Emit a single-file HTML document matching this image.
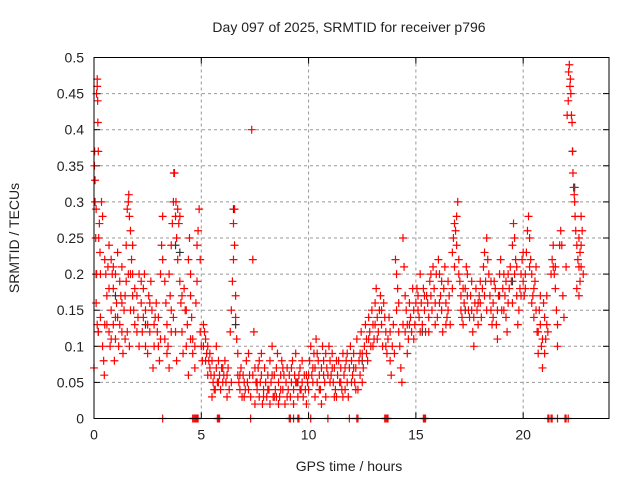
<!DOCTYPE html>
<html><head><meta charset="utf-8"><style>
body{margin:0;background:#fff}
svg text{font-family:"Liberation Sans",sans-serif;font-size:14px;fill:#222}
</style></head><body>
<svg id="chart" width="640" height="480" xmlns="http://www.w3.org/2000/svg">
<text x="349" y="32" text-anchor="middle">Day 097 of 2025, SRMTID for receiver p796</text>
<text transform="translate(19,238) rotate(-90)" text-anchor="middle">SRMTID / TECUs</text>
<text x="349" y="471" text-anchor="middle">GPS time / hours</text>
<g id="grid"></g><g id="axes"></g><g id="black"></g><g id="red"></g>
<rect x="94" y="57.5" width="515" height="361" fill="none" stroke="#000" stroke-width="1"/>
</svg>
<script>
const xTicks=[0,5,10,15,20];
const yTicks=[0,0.05,0.1,0.15,0.2,0.25,0.3,0.35,0.4,0.45,0.5];
const yTickLabels=["0","0.05","0.1","0.15","0.2","0.25","0.3","0.35","0.4","0.45","0.5"];
const redPoints=[[0,0.07],[0.02,0.35],[0.03,0.37],[0.05,0.33],[0.05,0.3],[0.08,0.25],[0.1,0.29],[0.12,0.45],[0.15,0.47],[0.15,0.46],[0.17,0.44],[0.18,0.41],[0.2,0.37],[0.12,0.2],[0.1,0.16],[0.15,0.13],[0.2,0.12],[0.22,0.25],[0.25,0.27],[0.28,0.23],[0.3,0.2],[0.3,0.14],[0.35,0.3],[0.4,0.28],[0.4,0.1],[0.45,0.08],[0.48,0.06],[0.5,0.13],[0.5,0.22],
[0.55,0.2],[0.6,0.17],[0.65,0.21],[0.7,0.24],[0.7,0.12],[0.75,0.1],[0.8,0.15],[0.8,0.22],[0.85,0.2],[0.9,0.18],[0.9,0.13],[0.95,0.08],[1.0,0.11],[1.0,0.2],[1.05,0.16],[1.1,0.23],[1.1,0.14],[1.15,0.1],[1.2,0.19],[1.25,0.17],[1.3,0.12],[1.3,0.21],[1.35,0.09],[1.4,0.15],[1.45,0.17],[1.5,0.19],
[1.5,0.24],[1.55,0.29],[1.6,0.3],[1.62,0.31],[1.65,0.28],[1.7,0.26],[1.7,0.2],[1.75,0.22],[1.8,0.24],[1.8,0.17],[1.85,0.15],[1.9,0.13],[1.6,0.2],[1.55,0.12],[1.65,0.1],
[2.0,0.17],[2.05,0.14],[2.1,0.1],[2.1,0.2],[2.2,0.16],[2.25,0.12],[2.3,0.18],[2.35,0.2],[2.4,0.15],[2.5,0.13],[2.5,0.09],[2.55,0.17],[2.6,0.12],[2.65,0.19],[2.7,0.15],[2.75,0.07],[2.8,0.1],[2.85,0.14],[2.9,0.16],[2.95,0.12],[3.0,0.1],[3.05,0.08],[3.1,0.11],[3.1,0.2],[3.15,0.24],[3.2,0.28],[3.2,0.22],
[3.3,0.19],[3.35,0.16],[3.4,0.13],[3.45,0.1],[3.5,0.07],[3.5,0.2],[3.55,0.17],[3.6,0.15],[3.6,0.24],[3.65,0.27],[3.7,0.3],[3.72,0.34],[3.75,0.34],[3.8,0.28],[3.82,0.3],[3.85,0.25],[3.9,0.29],[3.9,0.22],[3.95,0.27],[4.0,0.28],[4.0,0.19],[4.05,0.16],[4.1,0.12],[4.15,0.09],[3.8,0.12],[3.85,0.08],
[4.2,0.18],[4.25,0.15],[4.3,0.1],[4.35,0.13],[4.4,0.06],[4.4,0.22],[4.45,0.25],[4.5,0.2],[4.5,0.17],[4.55,0.14],[4.6,0.11],[4.6,0.09],[4.7,0.07],[4.7,0.1],[4.75,0.16],[4.8,0.19],[4.8,0.24],[4.85,0.26],[4.9,0.29],[4.95,0.22],[4.95,0.12],[5.0,0.1],[5.05,0.08],
[5.1,0.13],[5.15,0.12],[5.2,0.11],[5.25,0.09],[5.3,0.1],[5.35,0.08],[5.4,0.07],[5.45,0.06],[5.5,0.08],[5.55,0.05],[5.6,0.06],[5.65,0.04],[5.7,0.07],[5.75,0.05],[5.8,0.08],[5.85,0.06],[5.9,0.04],[5.95,0.07],[6.0,0.05],[5.5,0.03],[5.7,0.1],
[6.05,0.06],[6.1,0.08],[6.15,0.05],[6.2,0.03],[6.25,0.07],[6.3,0.04],[6.35,0.12],[6.4,0.15],[6.45,0.19],[6.5,0.22],[6.5,0.27],[6.55,0.29],[6.55,0.24],[6.6,0.17],[6.6,0.14],[6.65,0.11],[6.7,0.09],[6.7,0.06],[6.75,0.05],[6.8,0.04],[6.85,0.07],[6.9,0.03],[6.95,0.06],[7.0,0.05],
[7.05,0.04],[7.1,0.08],[7.15,0.05],[7.2,0.09],[7.25,0.06],[7.3,0.03],[7.35,0.4],[7.4,0.22],[7.45,0.12],[7.5,0.07],[7.55,0.05],[7.6,0.04],[7.65,0.07],[7.7,0.03],[7.75,0.05],[7.8,0.06],[7.85,0.02],[7.9,0.04],[7.95,0.07],[8.0,0.05],[7.5,0.02],[7.8,0.09],
[8.05,0.03],[8.1,0.06],[8.15,0.04],[8.2,0.08],[8.25,0.05],[8.3,0.1],[8.35,0.03],[8.4,0.06],[8.45,0.04],[8.5,0.07],[8.55,0.09],[8.6,0.05],[8.65,0.03],[8.7,0.06],[8.75,0.08],[8.8,0.04],[8.85,0.06],[8.9,0.02],[8.95,0.05],[9.0,0.07],[8.6,0.02],[8.4,0.03],
[9.05,0.04],[9.1,0.06],[9.15,0.03],[9.2,0.05],[9.25,0.08],[9.3,0.04],[9.35,0.06],[9.4,0.09],[9.45,0.05],[9.5,0.03],[9.55,0.06],[9.6,0.07],[9.65,0.04],[9.7,0.05],[9.75,0.03],[9.8,0.06],[9.85,0.04],[9.9,0.02],[9.95,0.05],[10.0,0.06],
[10.05,0.08],[10.1,0.1],[10.15,0.06],[10.2,0.05],[10.25,0.09],[10.3,0.07],[10.35,0.11],[10.4,0.05],[10.45,0.08],[10.5,0.06],[10.55,0.04],[10.6,0.07],[10.65,0.1],[10.7,0.08],[10.75,0.05],[10.8,0.03],[10.85,0.07],[10.9,0.06],[10.95,0.1],[11.0,0.08],[10.6,0.02],[10.3,0.03],
[11.05,0.06],[11.1,0.09],[11.15,0.05],[11.2,0.07],[11.25,0.04],[11.3,0.03],[11.35,0.06],[11.4,0.08],[11.45,0.05],[11.5,0.07],[11.55,0.04],[11.6,0.09],[11.65,0.06],[11.7,0.04],[11.75,0.08],[11.8,0.05],[11.85,0.03],[11.9,0.07],[11.95,0.1],[12.0,0.08],
[12.05,0.06],[12.1,0.09],[12.15,0.05],[12.2,0.07],[12.25,0.11],[12.3,0.04],[12.35,0.08],[12.4,0.06],[12.45,0.12],[12.5,0.09],[12.55,0.07],[12.6,0.1],[12.65,0.13],[12.7,0.11],[12.75,0.08],[12.8,0.14],[12.85,0.12],[12.9,0.1],[12.95,0.15],[13.0,0.13],
[13.05,0.11],[13.1,0.16],[13.15,0.18],[13.2,0.14],[13.25,0.12],[13.3,0.15],[13.35,0.17],[13.4,0.13],[13.45,0.1],[13.5,0.16],[13.55,0.14],[13.6,0.12],[13.65,0.09],[13.7,0.11],[13.75,0.14],[13.8,0.08],[13.85,0.06],[13.9,0.1],[13.95,0.13],[14.0,0.09],
[14.05,0.22],[14.1,0.2],[14.15,0.18],[14.2,0.12],[14.25,0.1],[14.3,0.07],[14.35,0.05],[14.4,0.25],[14.45,0.21],[14.5,0.17],[14.55,0.15],[14.6,0.13],[14.65,0.11],[14.7,0.16],[14.75,0.14],[14.8,0.12],[14.85,0.18],[14.9,0.15],[14.95,0.13],[15.0,0.16],[14.6,0.09],
[15.05,0.18],[15.1,0.17],[15.15,0.14],[15.2,0.2],[15.25,0.16],[15.3,0.13],[15.35,0.18],[15.4,0.15],[15.45,0.12],[15.5,0.17],[15.55,0.16],[15.6,0.14],[15.65,0.19],[15.7,0.17],[15.75,0.15],[15.8,0.21],[15.85,0.18],[15.9,0.16],[15.95,0.2],[16.0,0.14],
[16.05,0.22],[16.1,0.2],[16.15,0.17],[16.2,0.15],[16.25,0.12],[16.3,0.18],[16.35,0.21],[16.4,0.16],[16.45,0.14],[16.5,0.19],[16.55,0.17],[16.6,0.13],[16.7,0.23],[16.75,0.25],[16.8,0.27],[16.85,0.26],[16.9,0.28],[16.95,0.3],[17.0,0.22],[17.0,0.2],
[17.05,0.19],[17.1,0.17],[17.15,0.14],[17.2,0.13],[17.25,0.16],[17.3,0.18],[17.35,0.21],[17.4,0.2],[17.45,0.15],[17.5,0.14],[17.55,0.17],[17.6,0.19],[17.65,0.12],[17.7,0.1],[17.75,0.16],[17.8,0.18],[17.85,0.15],[17.9,0.13],[17.95,0.17],[18.0,0.16],
[18.05,0.14],[18.1,0.18],[18.15,0.21],[18.2,0.23],[18.25,0.19],[18.3,0.25],[18.35,0.22],[18.4,0.2],[18.45,0.17],[18.5,0.15],[18.55,0.13],[18.6,0.16],[18.65,0.19],[18.7,0.18],[18.75,0.13],[18.8,0.11],[18.85,0.17],[18.9,0.2],[18.95,0.22],[19.0,0.15],
[19.05,0.18],[19.1,0.2],[19.15,0.17],[19.2,0.14],[19.25,0.12],[19.3,0.16],[19.35,0.18],[19.4,0.21],[19.45,0.19],[19.5,0.24],[19.55,0.27],[19.6,0.25],[19.65,0.22],[19.7,0.17],[19.75,0.13],[19.8,0.15],[19.85,0.18],[19.9,0.2],[19.95,0.22],[20.0,0.19],
[20.05,0.17],[20.1,0.2],[20.15,0.23],[20.2,0.26],[20.25,0.28],[20.3,0.25],[20.35,0.22],[20.4,0.2],[20.45,0.17],[20.5,0.14],[20.55,0.19],[20.6,0.21],[20.65,0.12],[20.7,0.09],[20.75,0.15],[20.8,0.13],[20.85,0.1],[20.9,0.07],[20.95,0.16],[21.0,0.14],[21.05,0.11],[21.1,0.17],[21.15,0.12],
[21.3,0.2],[21.35,0.22],[21.4,0.24],[21.45,0.2],[21.5,0.18],[21.55,0.15],[21.6,0.1],[21.7,0.24],[21.75,0.26],[21.8,0.24],[21.85,0.17],[21.9,0.14],[22.0,0.21],
[22.05,0.42],[22.1,0.44],[22.12,0.48],[22.15,0.49],[22.18,0.46],[22.2,0.47],[22.22,0.45],[22.25,0.42],[22.28,0.41],[22.3,0.37],[22.32,0.34],[22.35,0.32],[22.38,0.31],[22.4,0.3],[22.42,0.28],[22.45,0.26],[22.5,0.24],[22.55,0.22],[22.6,0.25],[22.65,0.23],[22.7,0.21],[22.75,0.26],[22.8,0.2],[22.5,0.18],[22.6,0.17],[22.7,0.28]];
const redPointsExtra=[[0.6,0.13],[0.7,0.18],[0.8,0.11],[0.9,0.21],[1.0,0.14],[1.2,0.13],[1.3,0.16],[1.45,0.11],[1.7,0.15],[1.8,0.2],[1.9,0.18],[2.0,0.12],[2.2,0.19],[2.3,0.14],[2.4,0.1],[2.6,0.16],[2.8,0.13],[3.0,0.14],[3.3,0.11],[3.4,0.09],[3.6,0.12],[3.7,0.14],[4.1,0.17],[4.3,0.15],[4.5,0.11],[5.1,0.1],[5.2,0.08],[5.3,0.06],[5.4,0.09],[5.6,0.04],[5.8,0.05],[6.0,0.07],[6.2,0.06],[6.4,0.05],[6.8,0.06],[7.0,0.03],[7.2,0.04],[7.4,0.06],[7.6,0.05],[7.7,0.08],[7.9,0.03],[8.1,0.04],[8.2,0.02],[8.3,0.06],[8.5,0.03],[8.7,0.04],[8.8,0.07],[9.0,0.03],[9.2,0.07],[9.3,0.02],[9.4,0.05],[9.6,0.04],[9.7,0.08],[9.9,0.06],[10.0,0.04],[10.2,0.07],[10.4,0.09],[10.5,0.04],[10.7,0.06],[10.8,0.09],[11.0,0.05],[11.1,0.07],[11.2,0.03],[11.3,0.08],[11.5,0.05],[11.6,0.03],[11.7,0.07],[11.8,0.09],[12.0,0.05],[12.1,0.07],[12.2,0.04],[12.4,0.09],[12.5,0.05],[12.7,0.09],[12.8,0.11],[13.0,0.1],[13.1,0.13],[13.2,0.11],[13.4,0.15],[13.6,0.1],[13.8,0.12],[14.1,0.15],[14.2,0.16],[14.4,0.13],[14.5,0.12],[14.7,0.13],[14.9,0.11],[15.1,0.15],[15.2,0.12],[15.4,0.17],[15.6,0.12],[15.7,0.2],[15.9,0.13],[16.1,0.16],[16.2,0.19],[16.4,0.13],[16.5,0.15],[16.7,0.18],[16.8,0.21],[16.9,0.24],[17.1,0.15],[17.2,0.18],[17.4,0.17],[17.6,0.15],[17.7,0.14],[17.9,0.16],[18.0,0.19],[18.2,0.17],[18.3,0.15],[18.5,0.19],[18.6,0.14],[18.8,0.15],[18.9,0.17],[19.1,0.15],[19.2,0.19],[19.3,0.2],[19.5,0.16],[19.6,0.2],[19.7,0.21],[19.9,0.17],[20.0,0.23],[20.1,0.18],[20.3,0.21],[20.4,0.16],[20.5,0.18],[20.6,0.15],[20.7,0.12],[20.8,0.17],[20.9,0.11],[21.0,0.09],[21.1,0.13],[21.4,0.21],[21.5,0.21],[21.6,0.13],[22.6,0.21],[22.65,0.19],[22.7,0.24]];
const zeroTimes=[3.2,4.6,4.65,4.7,4.75,4.8,4.85,5.75,5.8,5.85,7.3,9.1,9.15,9.3,9.5,9.55,10.1,10.9,11.9,12.25,12.3,13.55,13.6,13.65,13.7,15.35,15.4,15.45,21.15,21.2,21.3,21.35,21.6,21.95,22.0,22.1];
const blackPoints=[[0.1,0.2],[0.2,0.12],[1.0,0.17],[3.8,0.24],[6.5,0.29],[6.6,0.13],[9.5,0.05],[22.3,0.37],[22.4,0.32],[15.3,0.12],[19.5,0.19],[12.5,0.08],[2.4,0.13],[4.0,0.23],[17.3,0.15]];

const L=94,R=609,T=57.5,B=418.5,XMAX=24,YMAX=0.5;
const xs=v=>L+v/XMAX*(R-L);
const ys=v=>B-v/YMAX*(B-T);
const NS="http://www.w3.org/2000/svg";
function mk(tag,attrs,parent){const e=document.createElementNS(NS,tag);for(const k in attrs)e.setAttribute(k,attrs[k]);parent.appendChild(e);return e;}
const grid=document.getElementById('grid'),axes=document.getElementById('axes');
xTicks.forEach(t=>{
  const x=xs(t);
  if(t>0){const g=mk('line',{x1:x,x2:x,y1:T,y2:B,stroke:'#999','stroke-dasharray':'3,3'},grid);
  
  }
  mk('line',{x1:x,x2:x,y1:B,y2:B-6,stroke:'#000'},axes);
  mk('line',{x1:x,x2:x,y1:T,y2:T+6,stroke:'#000'},axes);
  const lb=mk('text',{x:x,y:B+21,'text-anchor':'middle'},axes);lb.textContent=t;
  
  
});
yTicks.forEach((t,i)=>{
  const y=ys(t);
  if(t>0&&t<YMAX){const g=mk('line',{x1:L,x2:R,y1:y,y2:y,stroke:'#999','stroke-dasharray':'3,3'},grid);
  
  }
  mk('line',{x1:L,x2:L+6,y1:y,y2:y,stroke:'#000'},axes);
  mk('line',{x1:R,x2:R-6,y1:y,y2:y,stroke:'#000'},axes);
  const lb=mk('text',{x:L-10,y:y+5,'text-anchor':'end'},axes);lb.textContent=yTickLabels[i];
  
  
});
function plus(g,t,v,color,name){
  const x=xs(t),y=ys(v);
  const p=mk('path',{d:`M${x-4},${y}H${x+4}M${x},${y-4}V${y+4}`,stroke:color,'stroke-width':1.2,fill:'none'},g);
  
  
}
const bg=document.getElementById('black'),rg=document.getElementById('red');
blackPoints.forEach(p=>plus(bg,p[0],p[1],'#333','black-point'));
redPoints.forEach(p=>plus(rg,p[0],p[1],'#f00','red-point'));
redPointsExtra.forEach(p=>plus(rg,p[0],p[1],'#f00','red-point'));
zeroTimes.forEach(t=>plus(rg,t,0,'#f00','zero-point'));
</script>
</body></html>
